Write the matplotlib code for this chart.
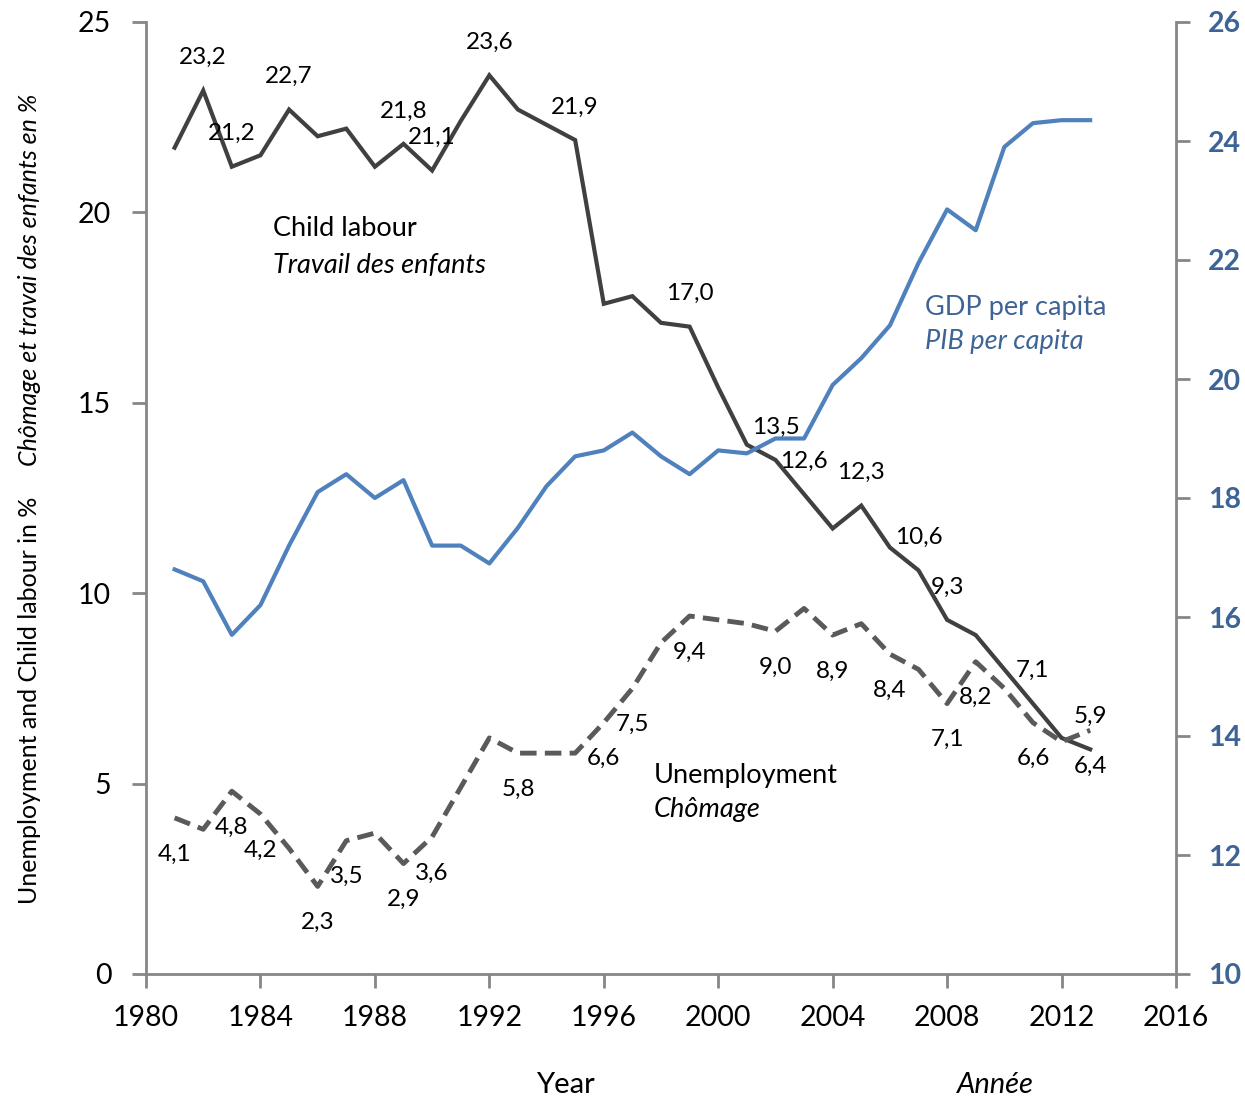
import matplotlib
matplotlib.use("Agg")
import matplotlib.pyplot as plt

plt.rcParams['font.family'] = ['Lato', 'DejaVu Sans']

years = list(range(1981, 2014))
child_labour = [21.7, 23.2, 21.2, 21.5, 22.7, 22.0, 22.2, 21.2, 21.8, 21.1,
                22.4, 23.6, 22.7, 22.3, 21.9, 17.6, 17.8, 17.1, 17.0, 15.4,
                13.9, 13.5, 12.6, 11.7, 12.3, 11.2, 10.6, 9.3, 8.9, 8.0,
                7.1, 6.2, 5.9]
unemployment = [4.1, 3.8, 4.8, 4.2, 3.3, 2.3, 3.5, 3.7, 2.9, 3.6,
                4.9, 6.2, 5.8, 5.8, 5.8, 6.6, 7.5, 8.7, 9.4, 9.3,
                9.2, 9.0, 9.6, 8.9, 9.2, 8.4, 8.0, 7.1, 8.2, 7.5,
                6.6, 6.1, 6.4]
gdp = [16.8, 16.6, 15.7, 16.2, 17.2, 18.1, 18.4, 18.0, 18.3, 17.2,
       17.2, 16.9, 17.5, 18.2, 18.7, 18.8, 19.1, 18.7, 18.4, 18.8,
       18.75, 19.0, 19.0, 19.9, 20.35, 20.9, 21.95, 22.85, 22.5, 23.9,
       24.3, 24.35, 24.35]

cl_label_years = [1982, 1983, 1985, 1989, 1990, 1992, 1995, 1999, 2002, 2003,
                  2005, 2007, 2008, 2011, 2013]
un_label_years = [1981, 1983, 1984, 1986, 1987, 1989, 1990, 1993, 1996, 1997,
                  1999, 2002, 2004, 2006, 2008, 2009, 2011, 2013]

x_ticks = list(range(1980, 2017, 4))
left_ticks = [0, 5, 10, 15, 20, 25]
right_ticks = list(range(10, 27, 2))

fig = plt.figure(figsize=(12.45, 11.02), dpi=100)
ax = fig.add_axes([146/1245, 1-974/1102, (1176-146)/1245, (974-22)/1102])
ax2 = ax.twinx()

spine_col = '#868686'
cl_col = '#404040'
un_col = '#5a5a5a'
gdp_col = '#4F81BD'
blue_txt = '#3E6496'

ax.plot(years, child_labour, color=cl_col, lw=3.0, solid_joinstyle='miter', zorder=3)
ax.plot(years, unemployment, color=un_col, lw=3.5, linestyle=(0, (3.4, 1.7)), zorder=3)
ax2.plot(years, gdp, color=gdp_col, lw=3.0, zorder=3)

def fmt(v):
    return f"{v:.1f}".replace('.', ',')

for yr in cl_label_years:
    v = child_labour[years.index(yr)]
    ax.annotate(fmt(v), (yr, v), xytext=(0, 33), textcoords='offset pixels',
                ha='center', va='center', fontsize=17.5, color='black', zorder=5)
for yr in un_label_years:
    v = unemployment[years.index(yr)]
    ax.annotate(fmt(v), (yr, v), xytext=(0, -36), textcoords='offset pixels',
                ha='center', va='center', fontsize=17.5, color='black', zorder=5)

ax.set_xlim(1980, 2016)
ax.set_ylim(0, 25)
ax2.set_ylim(10, 26)
ax.set_xticks(x_ticks)
ax.set_yticks(left_ticks)
ax2.set_yticks(right_ticks)

for a in (ax, ax2):
    for s in a.spines.values():
        s.set_color(spine_col)
        s.set_linewidth(2)
    a.spines['top'].set_visible(False)
ax.spines['right'].set_visible(False)
ax2.spines['left'].set_visible(False)
ax2.spines['bottom'].set_visible(False)

ax.tick_params(axis='x', direction='out', length=10, width=2, color=spine_col,
               labelsize=20.5, pad=12, labelcolor='black')
ax.tick_params(axis='y', direction='out', length=10, width=2, color=spine_col,
               labelsize=20.5, pad=15, labelcolor='black')
ax2.tick_params(axis='y', direction='out', length=10, width=2, color=spine_col,
                labelsize=20.5, pad=13, labelcolor=blue_txt)
for lab in ax2.get_yticklabels():
    lab.set_fontweight('bold')

cap_fs = 19.5
ax.text(273/1245, 1-229/1102, 'Child labour', transform=fig.transFigure,
        fontsize=cap_fs, ha='left', va='center')
ax.text(273/1245, 1-265/1102, 'Travail des enfants', transform=fig.transFigure,
        fontsize=cap_fs, ha='left', va='center', style='italic')
ax.text(925/1245, 1-307/1102, 'GDP per capita', transform=fig.transFigure,
        fontsize=cap_fs, ha='left', va='center', color=blue_txt)
ax.text(925/1245, 1-341/1102, 'PIB per capita', transform=fig.transFigure,
        fontsize=cap_fs, ha='left', va='center', color=blue_txt, style='italic')
ax.text(654/1245, 1-775/1102, 'Unemployment', transform=fig.transFigure,
        fontsize=cap_fs, ha='left', va='center')
ax.text(654/1245, 1-810/1102, 'Chômage', transform=fig.transFigure,
        fontsize=cap_fs, ha='left', va='center', style='italic')

fig.text(30/1245, 1-700/1102, 'Unemployment and Child labour in %', rotation=90,
         fontsize=18, ha='center', va='center')
fig.text(30/1245, 1-280/1102, 'Chômage et travai des enfants en %', rotation=90,
         fontsize=18, ha='center', va='center', style='italic')
fig.text(565/1245, 1-1085/1102, 'Year', fontsize=21, ha='center', va='center')
fig.text(995/1245, 1-1085/1102, 'Année', fontsize=21, ha='center', va='center',
         style='italic')

fig.savefig('out.png', dpi=100, facecolor='white')
